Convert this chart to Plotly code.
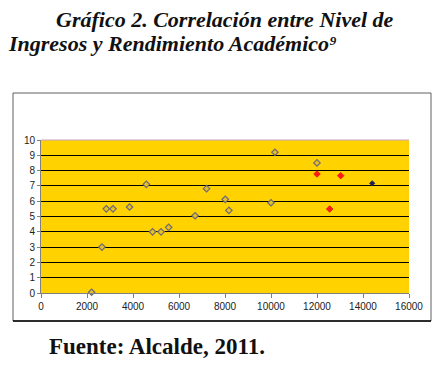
import plotly.graph_objects as go

# Data
ingreso_gris = [2200, 2650, 2840, 3130, 3850, 4580, 4850, 5220, 5550, 6700, 7200, 8010, 8170, 10000, 10170, 12000]
rendim_gris = [0.05, 3.0, 5.5, 5.5, 5.62, 7.1, 4.0, 4.0, 4.29, 5.05, 6.82, 6.12, 5.4, 5.9, 9.2, 8.5]
ingreso_rojo = [12000, 12550, 13030]
rendim_rojo = [7.78, 5.49, 7.67]
ingreso_azul = [14400]
rendim_azul = [7.17]

x_ticks = [0, 2000, 4000, 6000, 8000, 10000, 12000, 14000, 16000]
x_labels = ["0", "2000", "4000", "6000", "8000", "10000", "12000", "14000", "16000"]
y_ticks = list(range(0, 11))

fig = go.Figure()
fig.add_trace(go.Scatter(x=ingreso_gris, y=rendim_gris, mode="markers",
                         marker=dict(symbol="diamond", size=5, color="#E8C020",
                                     line=dict(color="#6E6A7A", width=1.2)),
                         showlegend=False, cliponaxis=False))
fig.add_trace(go.Scatter(x=ingreso_rojo, y=rendim_rojo, mode="markers",
                         marker=dict(symbol="diamond", size=5, color="#FF1A1A",
                                     line=dict(color="#E01010", width=0.8)),
                         showlegend=False))
fig.add_trace(go.Scatter(x=ingreso_azul, y=rendim_azul, mode="markers",
                         marker=dict(symbol="diamond", size=4, color="#1A1A60",
                                     line=dict(color="#1A1A60", width=0.8)),
                         showlegend=False))

OFF = 8  # default page body margin
W, H = 441 - OFF, 368 - OFF
L, R, T, B = 41 - OFF, 409 - OFF, 140 - OFF, 293 - OFF
pw, ph = R - L, B - T

def px(x):
    return (x - OFF - L) / pw

def py(y):
    return (B - (y - OFF)) / ph

fig.update_layout(
    width=W, height=H,
    margin=dict(l=L, r=W - R, t=T, b=H - B, pad=0),
    paper_bgcolor="white",
    plot_bgcolor="#FFD200",
    font=dict(family="Liberation Sans, Arial", size=10, color="#333333"),
    xaxis=dict(range=[0, 16000], tickvals=x_ticks, ticktext=x_labels, showgrid=False, zeroline=False,
               showline=True, linecolor="#808080", linewidth=1,
               ticks="outside", ticklen=4, tickcolor="#808080",
               tickfont=dict(size=10, color="#222222")),
    yaxis=dict(range=[0, 10], tickvals=y_ticks, showgrid=True, gridcolor="#000000",
               gridwidth=1, zeroline=False, showline=True, linecolor="#808080",
               linewidth=1, ticks="outside", ticklen=3, tickcolor="#808080",
               tickfont=dict(size=10, color="#222222")),
    shapes=[
        dict(type="rect", xref="paper", yref="paper",
             x0=px(13), x1=px(431), y0=py(321), y1=py(93),
             line=dict(color="#606060", width=1), fillcolor="rgba(0,0,0,0)", layer="below"),
        dict(type="line", xref="paper", yref="paper",
             x0=px(13), x1=px(431), y0=py(321), y1=py(321),
             line=dict(color="#000000", width=1.5)),
        dict(type="line", xref="paper", yref="paper",
             x0=0, x1=1, y0=1, y1=1,
             line=dict(color="#C8A0C8", width=1)),
    ],
    annotations=[
        dict(text="<b><i>Gráfico 2. Correlación entre Nivel de</i></b>", xref="paper", yref="paper",
             x=px(225), y=py(20), xanchor="center", yanchor="middle", showarrow=False,
             font=dict(family="Liberation Serif, Times New Roman", size=22, color="#111111")),
        dict(text="<b><i>Ingresos y Rendimiento Académico⁹</i></b>", xref="paper", yref="paper",
             x=px(6), y=py(43), xanchor="left", yanchor="middle", showarrow=False,
             font=dict(family="Liberation Serif, Times New Roman", size=22, color="#111111")),
        dict(text="<b>Fuente: Alcalde, 2011.</b>", xref="paper", yref="paper",
             x=px(47), y=py(346), xanchor="left", yanchor="middle", showarrow=False,
             font=dict(family="Liberation Serif, Times New Roman", size=23, color="#111111")),
    ],
)

fig.write_html("out.html")
